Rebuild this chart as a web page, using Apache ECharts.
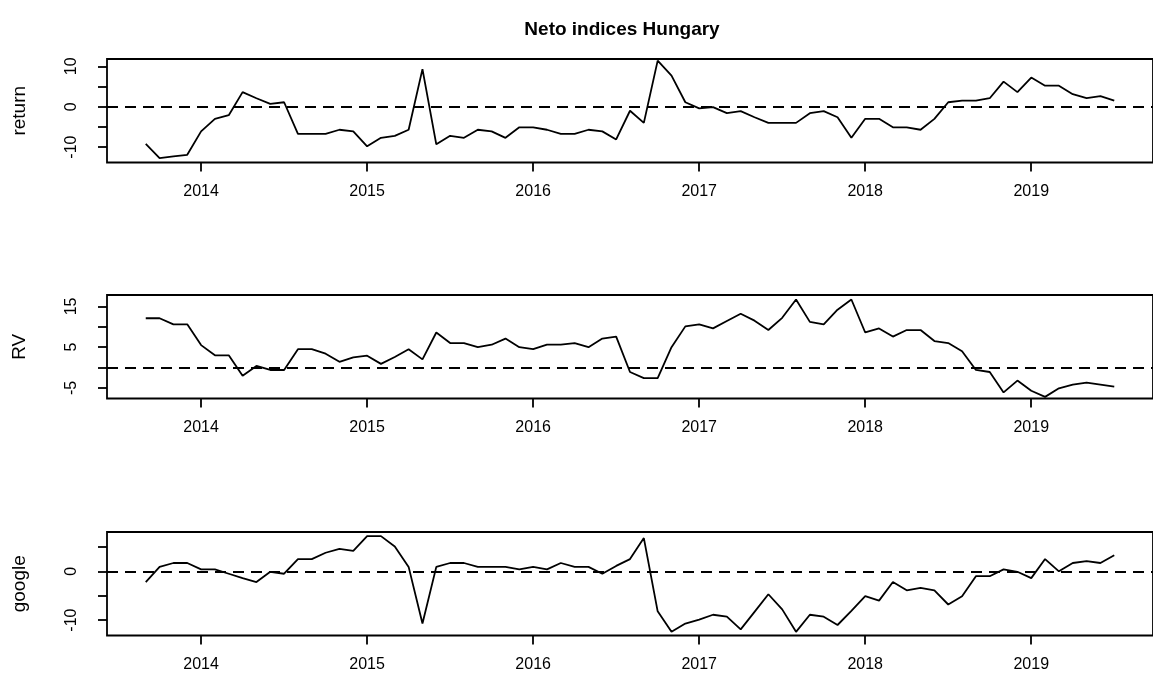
<!DOCTYPE html>
<html>
<head>
<meta charset="utf-8">
<script src="https://cdn.jsdelivr.net/npm/echarts@6/dist/echarts.min.js"></script>
<style>
html,body{margin:0;padding:0;background:#fff;}
#chart{width:1153px;height:691px;}
</style>
</head>
<body>
<div id="chart"></div>
<script>
// Monthly series, Sep 2013 .. Jul 2019
const startYear = 2013, startMonth = 9;
const returnVals = [
  -9.2, -12.7, -12.3, -11.9, -6.1, -3.0, -2.1, 3.6, 2.1, 0.7,
  1.1, -6.7, -6.7, -6.7, -5.7, -6.1, -9.8, -7.7, -7.2, -5.7,
  9.3, -9.3, -7.2, -7.7, -5.7, -6.1, -7.7, -5.1, -5.1, -5.7,
  -6.7, -6.7, -5.7, -6.1, -8.1, -1.0, -4.0, 11.4, 7.7, 1.1,
  -0.4, -0.1, -1.6, -1.1, -2.6, -4.0, -4.0, -4.0, -1.6, -1.1,
  -2.6, -7.7, -3.0, -3.0, -5.1, -5.1, -5.7, -3.0, 1.1, 1.5,
  1.5, 2.1, 6.2, 3.6, 7.2, 5.2, 5.2, 3.1, 2.1, 2.6, 1.5
];
const rvVals = [
  12.1, 12.1, 10.6, 10.6, 5.5, 3.0, 3.0, -2.0, 0.4, -0.6,
  -0.6, 4.5, 4.5, 3.4, 1.4, 2.5, 2.9, 0.9, 2.6, 4.5,
  2.0, 8.6, 6.0, 6.0, 5.0, 5.6, 7.1, 5.0, 4.5, 5.6,
  5.6, 6.0, 5.0, 7.1, 7.6, -1.1, -2.6, -2.6, 5.0, 10.1,
  10.6, 9.6, 11.4, 13.2, 11.5, 9.2, 12.2, 16.7, 11.2, 10.6,
  14.2, 16.7, 8.6, 9.6, 7.6, 9.2, 9.2, 6.5, 6.0, 4.0,
  -0.6, -1.1, -6.1, -3.2, -5.7, -7.2, -5.1, -4.2, -3.7, -4.2, -4.7
];
const googleVals = [
  -2.2, 0.9, 1.7, 1.7, 0.4, 0.4, -0.5, -1.4, -2.2, -0.1,
  -0.5, 2.5, 2.5, 3.8, 4.6, 4.2, 7.2, 7.2, 5.1, 0.9,
  -10.7, 0.9, 1.7, 1.7, 0.9, 0.9, 0.9, 0.4, 0.9, 0.4,
  1.7, 0.9, 0.9, -0.5, 1.1, 2.5, 6.8, -8.2, -12.4, -10.7,
  -9.9, -8.9, -9.3, -11.9, -8.3, -4.7, -7.8, -12.4, -8.9, -9.3,
  -11.0, -8.1, -5.1, -6.0, -2.2, -3.9, -3.4, -3.9, -6.8, -5.1,
  -1.0, -1.0, 0.4, -0.1, -1.4, 2.5, 0.0, 1.7, 2.1, 1.7, 3.3
];
const xTicks = [2014, 2015, 2016, 2017, 2018, 2019];
const panelNames = ['return', 'RV', 'google'];
const yTicksReturn = [-10, -5, 0, 5, 10];
const yLabelsReturn = [-10, 0, 10];
const yTicksRV = [-5, 0, 5, 10, 15];
const yLabelsRV = [-5, 5, 15];
const yTicksGoogle = [-10, -5, 0, 5];
const yLabelsGoogle = [-10, 0];
const yRanges = [[-13.8, 11.8], [-7.6, 17.8], [-13.15, 8.05]];
const xRange = [2013.4333, 2019.7333];

const times = returnVals.map((_, i) => startYear + (startMonth - 1) / 12 + i / 12);
const seriesVals = [returnVals, rvVals, googleVals];
const yTicks = [yTicksReturn, yTicksRV, yTicksGoogle];
const yLabels = [yLabelsReturn, yLabelsRV, yLabelsGoogle];

const FONT = 'Liberation Sans, Arial, Helvetica, sans-serif';
const LW = 1.8;
const tops = [59, 295, 532];

const chart = echarts.init(document.getElementById('chart'), null, {renderer: 'canvas'});
const grids = [], xAxes = [], yAxes = [], series = [];
for (let p = 0; p < 3; p++) {
  grids.push({left: 107, top: tops[p], width: 1051, height: 103.5, show: true,
    borderColor: '#000', borderWidth: LW, backgroundColor: 'transparent', containLabel: false});
  xAxes.push({type: 'value', gridIndex: p, min: xRange[0], max: xRange[1],
    position: 'bottom',
    axisLine: {show: false, onZero: false},
    splitLine: {show: false},
    axisTick: {show: true, customValues: xTicks, length: 9, inside: false,
      lineStyle: {color: '#000', width: LW}},
    axisLabel: {show: true, customValues: xTicks, color: '#000', fontSize: 16,
      fontFamily: FONT, margin: 21, formatter: v => String(v)}
  });
  yAxes.push({type: 'value', gridIndex: p, min: yRanges[p][0], max: yRanges[p][1],
    position: 'left',
    name: panelNames[p], nameLocation: 'middle', nameRotate: 90, nameGap: 78,
    nameTextStyle: {color: '#000', fontSize: 19, fontFamily: FONT},
    axisLine: {show: false, onZero: false},
    splitLine: {show: false},
    axisTick: {show: true, customValues: yTicks[p], length: 9, inside: false,
      lineStyle: {color: '#000', width: LW}},
    axisLabel: {show: true, customValues: yLabels[p], rotate: 90, color: '#000',
      fontSize: 16, fontFamily: FONT, margin: 27, formatter: v => String(v)}
  });
  series.push({type: 'line', xAxisIndex: p, yAxisIndex: p,
    data: seriesVals[p].map((v, i) => [times[i], v]),
    showSymbol: false, symbol: 'none',
    lineStyle: {color: '#000', width: LW}, clip: true,
    markLine: {silent: true, symbol: ['none', 'none'], label: {show: false},
      lineStyle: {color: '#000', width: LW, type: [11, 7]},
      data: [{yAxis: 0}]}
  });
}

chart.setOption({
  animation: false,
  backgroundColor: '#fff',
  title: {text: 'Neto indices Hungary', left: 617, top: 15, textAlign: 'center',
    textStyle: {color: '#000', fontSize: 19, fontWeight: 'bold', fontFamily: FONT}},
  grid: grids, xAxis: xAxes, yAxis: yAxes, series: series
});
</script>
</body>
</html>
